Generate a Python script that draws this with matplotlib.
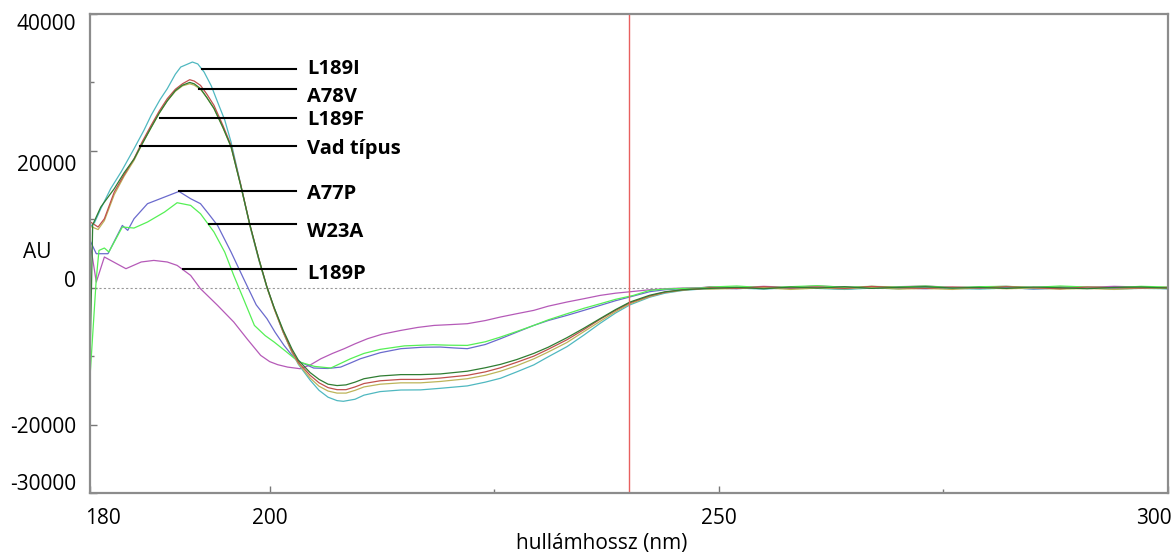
import matplotlib
matplotlib.use("Agg")
import matplotlib.pyplot as plt
from matplotlib.transforms import ScaledTranslation

plt.rcParams['font.family'] = ['Open Sans', 'DejaVu Sans']

# shared tail (flat region)
tail_nm = [249, 252, 255, 258, 261, 264, 267, 270, 273, 276, 279, 282, 285, 288, 291, 294, 297, 300]

# L189I (teal)
teal_nm = [180, 180.5, 181.2, 182.3, 183.5, 184.9, 186.0, 186.8, 187.8, 188.6, 189.5, 190.1, 191.4, 192.0,
           192.7, 193.5, 194.2, 195.0, 195.7, 196.8, 197.8, 198.8, 199.7, 200.5, 201.5, 202.5, 203.2, 204.5,
           205.5, 206.5, 207.5, 208.2, 209.5, 210.5, 212.3, 214.6, 216.8, 219, 222, 224, 225.7, 227.5, 229.4,
           231, 233.1, 235, 236.8, 238.5, 240.1, 242.3, 244, 246, 248]
teal_val = [8900, 9500, 11540, 14470, 17000, 20310, 23000, 25180, 27500, 29080, 31200, 32250, 32980, 32700,
            31520, 29500, 27140, 24500, 21290, 14950, 9000, 4000, 0, -3000, -6500, -9500, -11200, -13500,
            -15000, -16000, -16500, -16600, -16300, -15700, -15180, -14950, -14930, -14700, -14350, -13800,
            -13230, -12300, -11280, -10100, -8610, -6900, -5190, -3700, -2510, -1390, -800, -400, -200]
teal_tail = [-150, -50, -200, 0, -100, -250, -50, -150, 50, -100, -200, -50, -150, -100, 0, -200, -100, -150]

# A78V (red)
red_nm = [180, 180.9, 181.6, 182.7, 183.8, 184.9, 185.8, 186.8, 187.7, 188.6, 189.5, 190.3, 191.1, 191.6,
          192.3, 193.0, 193.8, 194.8, 195.7, 196.8, 197.8, 198.8, 199.7, 200.5, 201.5, 202.5, 203.2, 204.5,
          205.5, 206.5, 207.5, 208.5, 209.5, 210.5, 212.3, 214.6, 216.8, 219, 222, 224, 225.7, 227.5, 229.4,
          231, 233.1, 235, 236.8, 238.5, 240.1, 242.3, 244, 246, 248]
red_val = [9640, 8870, 10080, 13980, 16500, 18850, 21300, 23720, 25800, 27620, 29000, 29810, 30400, 30200,
           29570, 28300, 26650, 23700, 20800, 14950, 9200, 4200, 100, -3000, -6400, -9300, -10900, -12800,
           -13900, -14600, -14900, -14900, -14500, -14000, -13600, -13400, -13400, -13200, -12800, -12300,
           -11700, -10900, -10000, -9000, -7600, -6100, -4600, -3300, -2200, -1200, -650, -300, -150]
red_tail = [0, -100, 150, -50, 100, -100, 200, 0, -100, 100, -50, 150, 0, -150, 100, 0, -50, 50]

# dark green
dgreen_nm = [180, 180.3, 181.2, 182.7, 183.8, 184.9, 185.8, 186.8, 187.7, 188.6, 189.5, 190.3, 191.1, 191.6,
             192.3, 193.0, 193.8, 194.8, 195.7, 196.8, 197.8, 198.8, 199.7, 200.5, 201.5, 202.5, 203.2, 204.5,
             205.5, 206.5, 207.5, 208.5, 209.5, 210.5, 212.3, 214.6, 216.8, 219, 222, 224, 225.7, 227.5, 229.4,
             231, 233.1, 235, 236.8, 238.5, 240.1, 242.3, 244, 246, 248]
dgreen_val = [-11000, 9200, 11790, 14470, 16800, 18800, 21000, 23400, 25500, 27300, 28800, 29600, 30000, 29800,
              29100, 27800, 26200, 23400, 20600, 14800, 9200, 4200, 100, -2900, -6200, -9000, -10600, -12400,
              -13400, -14100, -14300, -14200, -13800, -13300, -12900, -12700, -12700, -12600, -12200, -11700,
              -11200, -10500, -9600, -8700, -7300, -5900, -4500, -3200, -2100, -1100, -600, -300, -150]
dgreen_tail = [-100, 50, -150, 100, -50, 150, -100, 50, 150, -50, 50, -100, 100, 0, -150, 50, 100, -50]

# olive / tan
olive_nm = [180, 180.9, 181.6, 182.7, 183.8, 184.9, 185.8, 186.8, 187.7, 188.6, 189.5, 190.3, 191.1, 191.6,
            192.3, 193.0, 193.8, 194.8, 195.7, 196.8, 197.8, 198.8, 199.7, 200.5, 201.5, 202.5, 203.2, 204.5,
            205.5, 206.5, 207.5, 208.5, 209.5, 210.5, 212.3, 214.6, 216.8, 219, 222, 224, 225.7, 227.5, 229.4,
            231, 233.1, 235, 236.8, 238.5, 240.1, 242.3, 244, 246, 248]
olive_val = [9000, 8500, 9800, 13600, 16300, 18600, 21000, 23400, 25500, 27300, 28700, 29500, 29800, 29600,
             29000, 27800, 26200, 23400, 20600, 14800, 9100, 4100, 0, -3100, -6500, -9500, -11100, -13200,
             -14400, -15100, -15400, -15400, -15000, -14500, -14100, -13900, -13900, -13700, -13300, -12800,
             -12200, -11400, -10400, -9400, -8000, -6400, -4900, -3500, -2350, -1300, -700, -350, -150]
olive_tail = [-200, -100, 0, -250, -50, -150, 50, -200, -100, -250, 0, -150, -50, -200, -100, -250, -50, -100]

# A77P (blue)
blue_nm = [180, 180.7, 182.0, 183.6, 184.2, 184.9, 186.4, 188.3, 189.9, 191.2, 192.3, 193.2, 194.2, 195.7,
           197.1, 198.5, 199.7, 200.6, 201.6, 202.5, 203.4, 204.9, 206.5, 207.9, 209, 210.1, 212.3, 214.6,
           217, 219, 220.5, 222, 224, 225.7, 227.5, 229.4, 231, 233.1, 235, 236.8, 238.5, 240.5, 242.3,
           244, 246, 248]
blue_val = [6910, 4970, 4970, 9100, 8380, 10080, 12280, 13250, 14070, 13010, 12280, 10800, 9100, 5220,
            1320, -2500, -4530, -6500, -8430, -9900, -10860, -11740, -11800, -11600, -11000, -10380, -9500,
            -8910, -8700, -8670, -8800, -8910, -8300, -7450, -6500, -5510, -4800, -4040, -3300, -2580, -1900,
            -1210, -580, -300, -150, -100]
blue_tail = [-50, -150, 50, -100, 0, -200, 50, -50, -150, 0, -100, 50, -200, -50, 0, -100, 50, -150]

# W23A (bright green)
lgreen_nm = [180, 180.7, 181.0, 181.6, 182.1, 182.7, 183.6, 184.9, 186.4, 188.3, 189.7, 191.2, 192.3, 193.8,
             195.0, 196.0, 197.2, 198.3, 199.5, 200.5, 201.8, 203.2, 205, 206.8, 208, 209, 210.5, 212.3, 215,
             218.2, 220, 222, 224, 225.7, 227.5, 229.4, 231, 233.1, 235, 236.8, 238.5, 240.5, 242.3, 244, 246, 248]
lgreen_val = [-13050, 1315, 5450, 5800, 5220, 6680, 8870, 8720, 9600, 11060, 12420, 12030, 10810, 8140,
              5200, 1800, -2000, -5510, -7000, -7940, -9300, -10810, -11500, -11740, -11000, -10380, -9600,
              -9010, -8500, -8330, -8400, -8430, -7900, -7210, -6400, -5510, -4700, -3800, -3000, -2340, -1700,
              -1120, -390, -200, -100, -50]
lgreen_tail = [100, 250, 0, 150, 300, 50, 200, 100, 250, 0, 150, 200, 50, 250, 100, 0, 200, 100]

# L189P (magenta)
mag_nm = [180, 180.7, 181.6, 182.3, 184.0, 185.7, 187.1, 188.6, 189.7, 191.2, 192.3, 193.2, 194.2, 196.0,
          197.5, 199.0, 200.0, 200.9, 202, 203.4, 204.5, 205.7, 207, 208.3, 209.5, 210.9, 212.5, 214.6, 216.5,
          218.3, 220, 222, 224, 225.7, 227.5, 229.4, 231, 233.1, 235, 236.8, 238.5, 240.5, 242.3, 244, 246, 248]
mag_val = [6680, 830, 4490, 3990, 2780, 3760, 3990, 3760, 3260, 1800, -150, -1300, -2580, -5010,
           -7500, -9890, -10800, -11250, -11600, -11840, -11300, -10380, -9600, -8910, -8200, -7450, -6800,
           -6240, -5800, -5510, -5400, -5260, -4800, -4280, -3800, -3310, -2700, -2090, -1600, -1120, -800,
           -540, -300, -150, -50, 0]
mag_tail = [150, 0, 200, 50, 250, 100, 0, 150, 250, 50, 100, 200, 0, 150, 50, 200, 100, 0]

series = [
    (mag_nm, mag_val, mag_tail, '#b55ab8'),
    (blue_nm, blue_val, blue_tail, '#6a6acd'),
    (lgreen_nm, lgreen_val, lgreen_tail, '#55f055'),
    (teal_nm, teal_val, teal_tail, '#4fb8c0'),
    (olive_nm, olive_val, olive_tail, '#bdb45a'),
    (red_nm, red_val, red_tail, '#c0504d'),
    (dgreen_nm, dgreen_val, dgreen_tail, '#2f7d32'),
]

# annotation labels with leader lines
labels = ['L189I', 'A78V', 'L189F', 'Vad típus', 'A77P', 'W23A', 'L189P']
line_x0 = [192.5, 192.1, 187.8, 185.6, 189.9, 193.2, 190.3]
line_y = [32000, 29080, 24800, 20650, 14070, 9350, 2780]
text_y = [32000, 27900, 24550, 20300, 13740, 8180, 2050]

x_ticks = [180, 200, 250, 300]
y_ticks = [40000, 20000, 0, -20000, -30000]

fig = plt.figure(figsize=(11.74, 5.55), dpi=100)
ax = fig.add_axes([90 / 1174, 1 - 493 / 555, (1168 - 90) / 1174, (493 - 14) / 555])

for nm, val, tail, col in series:
    ax.plot(nm + tail_nm, val + tail, color=col, lw=0.9)

ax.axhline(0, color='#999999', lw=0.8, ls=(0, (2, 2)), zorder=0)
ax.axvline(240, color='#e8605f', lw=1.0)

for lab, x0, ly, ty in zip(labels, line_x0, line_y, text_y):
    ax.plot([x0, 202.9], [ly, ly], color='black', lw=1.5)
    ax.text(204.2, ty, lab, fontsize=14.5, fontweight='bold', va='center', ha='left')

ax.set_xlim(180, 300)
ax.set_ylim(-30000, 40000)
ax.set_xticks(x_ticks)
ax.set_xticks([225, 275], minor=True)
ax.set_yticks(y_ticks)
ax.set_yticks([30000, 10000, -10000], minor=True)
ax.set_xticklabels([str(t) for t in x_ticks])
ax.set_yticklabels([str(t) for t in y_ticks])
ax.tick_params(axis='both', which='major', direction='in', length=5, width=1, color='#777777',
               labelsize=15, pad=10)
ax.tick_params(axis='both', which='minor', direction='in', length=3, width=1, color='#777777')
ax.tick_params(axis='x', which='major', pad=11)

for sp in ax.spines.values():
    sp.set_color('#8c8c8c')
    sp.set_linewidth(1.6)

# nudge tick labels the way they sit in the picture (pixels)
x_shift = [13, 0, 0, -14]
y_shift = [-8, -12, 9, 0, 11]
for lab, dx in zip(ax.get_xticklabels(), x_shift):
    lab.set_transform(lab.get_transform() + ScaledTranslation(dx / 100, 0, fig.dpi_scale_trans))
for lab, dy in zip(ax.get_yticklabels(), y_shift):
    lab.set_transform(lab.get_transform() + ScaledTranslation(0, dy / 100, fig.dpi_scale_trans))

fig.text(37 / 1174, 1 - 252 / 555, 'AU', fontsize=15, ha='center', va='center')
fig.text(602 / 1174, 1 - 543 / 555, 'hullámhossz (nm)', fontsize=15, ha='center', va='center')

fig.savefig('out.png', dpi=100)
